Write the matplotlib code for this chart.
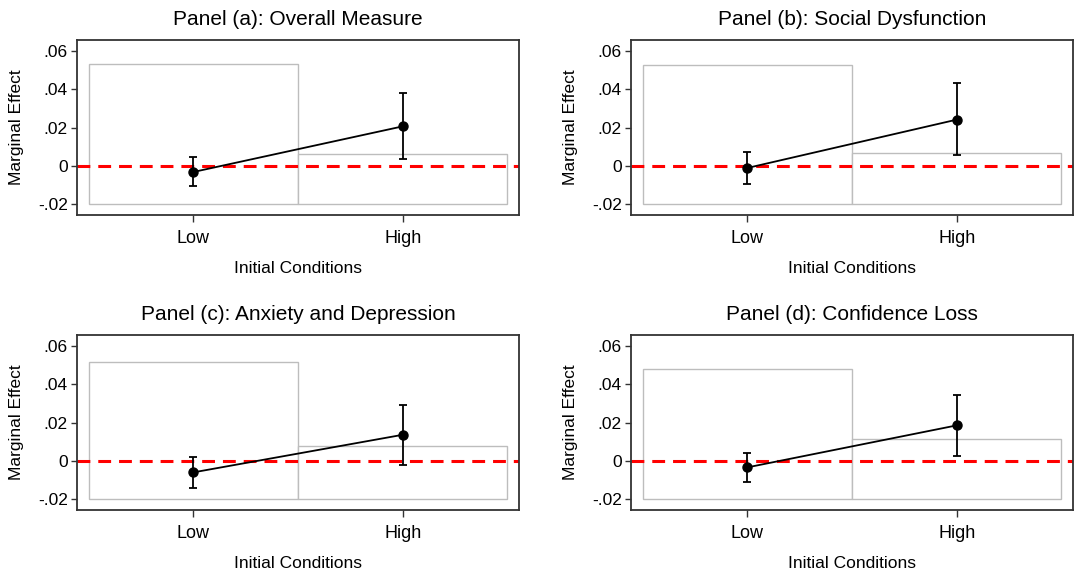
import matplotlib
matplotlib.use("Agg")
import matplotlib.pyplot as plt

plt.rcParams['font.family'] = ['Liberation Sans', 'DejaVu Sans']

titles = ["Panel (a): Overall Measure", "Panel (b): Social Dysfunction",
          "Panel (c): Anxiety and Depression", "Panel (d): Confidence Loss"]
categories = ["Low", "High"]
# histogram-style background bars (share of sample, on marginal-effect scale)
bar_tops = [[0.0532, 0.0063], [0.0525, 0.0070], [0.0517, 0.0078], [0.0478, 0.0117]]
bar_base = -0.02
# marginal effects and confidence intervals
effects = [[-0.0031, 0.0207], [-0.0010, 0.0242], [-0.0059, 0.0137], [-0.0033, 0.0186]]
ci_low = [[-0.0106, 0.0035], [-0.0096, 0.0057], [-0.0139, -0.0019], [-0.0110, 0.0028]]
ci_high = [[0.0045, 0.0383], [0.0071, 0.0431], [0.0021, 0.0292], [0.0042, 0.0344]]
yticks = [-0.02, 0, 0.02, 0.04, 0.06]
yticklabels = ["-.02", "0", ".02", ".04", ".06"]

W, H = 1075, 574
fig = plt.figure(figsize=(W / 100, H / 100), dpi=100)
boxes = [(77, 40), (631, 40), (77, 335), (631, 335)]
bw, bh = 442, 175

for i in range(4):
    x0, y0 = boxes[i]
    ax = fig.add_axes([x0 / W, 1 - (y0 + bh) / H, bw / W, bh / H])
    xs = list(range(len(categories)))
    heights = [t - bar_base for t in bar_tops[i]]
    ax.bar(xs, heights, bottom=bar_base, width=1.0, color='white',
           edgecolor='#bdbdbd', linewidth=1.0, zorder=1)
    ax.axhline(0, color='#ff0000', linestyle=(0, (4.2, 2.6)), linewidth=2.2, zorder=2)
    ax.plot(xs, effects[i], color='black', linewidth=1.3, zorder=3)
    yerr = [[e - l for e, l in zip(effects[i], ci_low[i])],
            [h - e for e, h in zip(effects[i], ci_high[i])]]
    ax.errorbar(xs, effects[i], yerr=yerr, fmt='o', color='black', markersize=6.5,
                capsize=2.8, elinewidth=1.3, capthick=1.3, zorder=4)
    ax.set_xlim(-0.555, 1.555)
    ax.set_ylim(-0.0255, 0.0657)
    ax.set_xticks(xs)
    ax.set_xticklabels(categories, fontsize=13)
    ax.set_yticks(yticks)
    ax.set_yticklabels(yticklabels, fontsize=12.5)
    ax.tick_params(axis='y', direction='out', length=4.5, width=1, color='#333333', pad=2)
    ax.tick_params(axis='x', direction='out', length=5, width=1, color='#333333', pad=6)
    for s in ax.spines.values():
        s.set_color('#333333')
        s.set_linewidth(1.3)
    ax.set_xlabel("Initial Conditions", fontsize=12.5, labelpad=10)
    ax.set_ylabel("Marginal Effect", fontsize=12.5, labelpad=10)
    ax.set_title(titles[i], fontsize=15, pad=11)

fig.savefig("out.png", dpi=100, facecolor='white')
